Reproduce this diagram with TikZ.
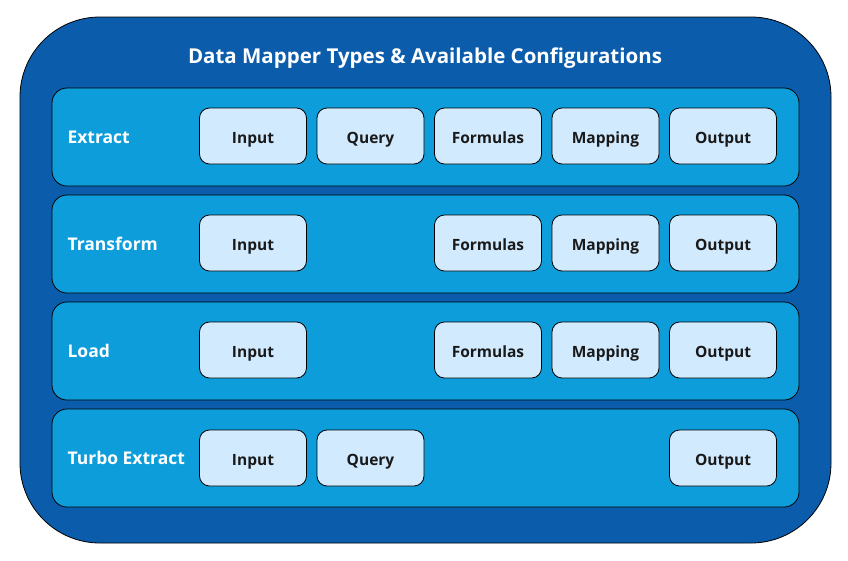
\documentclass[tikz,border=0pt]{standalone}
\usepackage{fontspec}
\setmainfont{Open Sans}
\definecolor{outerc}{HTML}{0B5CAB}
\definecolor{rowc}{HTML}{0D9DDA}
\definecolor{boxc}{HTML}{D1EAFE}
\begin{document}
\begin{tikzpicture}[x=1pt,y=-1pt,
  outerbox/.style={draw=black,line width=0.8pt,fill=outerc,rounded corners=80pt},
  rowbox/.style={draw=black,line width=0.8pt,fill=rowc,rounded corners=15pt},
  cfgbox/.style={draw=black,line width=0.8pt,fill=boxc,rounded corners=10pt,minimum width=107pt,minimum height=56pt,inner sep=0pt,text height=17pt,text depth=3pt,font=\fontsize{15.5}{18}\selectfont\bfseries,text=black!90},
  rowlabel/.style={anchor=base west,text=white,font=\fontsize{17.5}{20}\selectfont\bfseries},
  titlelabel/.style={anchor=base,text=white,font=\fontsize{20.5}{24}\selectfont\bfseries}]
\useasboundingbox (0,0) rectangle (848,560);
\draw[outerbox] (20,17) rectangle (831,543);
\node[titlelabel] (title) at (425,63) {Data Mapper Types \& Available Configurations};
% rows
\foreach \i/\lab/\nm in {0/Extract/r1,1/Transform/r2,2/Load/r3,3/Turbo Extract/r4}{
  \draw[rowbox] (52,{88+107*\i}) rectangle (799,{186+107*\i});
  \node[rowlabel] (\nm lab) at (64,{143.5+107*\i}) {\lab};
}
\node[cfgbox] (e1) at (253,136) {Input};
\node[cfgbox] (e2) at (370.5,136) {Query};
\node[cfgbox] (e3) at (488,136) {Formulas};
\node[cfgbox] (e4) at (605.5,136) {Mapping};
\node[cfgbox] (e5) at (723,136) {Output};
\node[cfgbox] (t1) at (253,243) {Input};
\node[cfgbox] (t3) at (488,243) {Formulas};
\node[cfgbox] (t4) at (605.5,243) {Mapping};
\node[cfgbox] (t5) at (723,243) {Output};
\node[cfgbox] (l1) at (253,350) {Input};
\node[cfgbox] (l3) at (488,350) {Formulas};
\node[cfgbox] (l4) at (605.5,350) {Mapping};
\node[cfgbox] (l5) at (723,350) {Output};
\node[cfgbox] (x1) at (253,458) {Input};
\node[cfgbox] (x2) at (370.5,458) {Query};
\node[cfgbox] (x5) at (723,458) {Output};
\end{tikzpicture}
\end{document}
